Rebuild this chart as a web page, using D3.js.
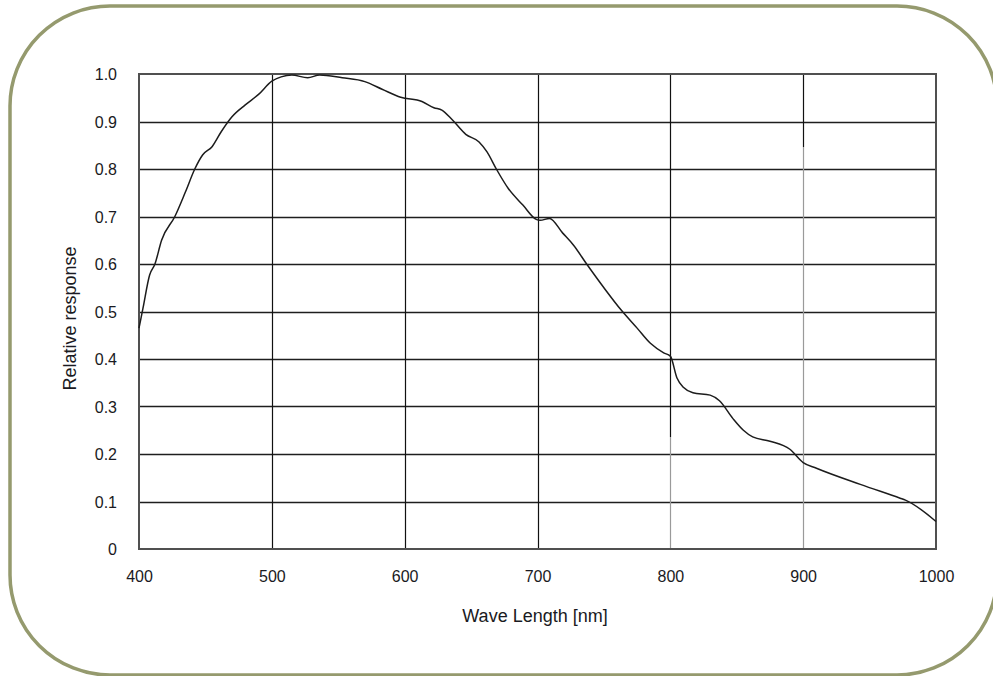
<!DOCTYPE html>
<html>
<head>
<meta charset="utf-8">
<script src="https://cdn.jsdelivr.net/npm/d3@7"></script>
<style>
  html, body { margin: 0; padding: 0; background: #fff; }
  svg { display: block; }
  text { font-family: "Liberation Sans", Arial, sans-serif; fill: #1a1a22; }
</style>
</head>
<body>
<svg id="chart" width="993" height="676"></svg>
<script>
// ---- data ----
const wavelength = [400, 403, 408, 412, 417, 427, 435, 442, 448, 455, 462, 470, 480, 490, 500, 507, 515, 527, 536, 553, 570, 583, 597, 613, 622, 628, 636, 646, 656, 662, 669, 678, 689, 699, 702, 709, 719, 727, 737, 750, 763, 775, 785, 795, 800, 805, 810, 817, 830, 837, 847, 855, 862, 875, 890, 900, 910, 943, 973, 977, 1000];
const response   = [0.465, 0.507, 0.577, 0.600, 0.650, 0.700, 0.752, 0.800, 0.830, 0.847, 0.879, 0.910, 0.935, 0.957, 0.985, 0.994, 0.998, 0.992, 0.998, 0.992, 0.984, 0.968, 0.951, 0.942, 0.929, 0.924, 0.903, 0.873, 0.857, 0.836, 0.800, 0.759, 0.724, 0.694, 0.692, 0.696, 0.665, 0.640, 0.600, 0.550, 0.503, 0.465, 0.433, 0.413, 0.406, 0.360, 0.340, 0.329, 0.324, 0.312, 0.275, 0.250, 0.236, 0.227, 0.210, 0.182, 0.170, 0.136, 0.107, 0.103, 0.058];
const xTicks = [400, 500, 600, 700, 800, 900, 1000];
const yTicks = [0, 0.1, 0.2, 0.3, 0.4, 0.5, 0.6, 0.7, 0.8, 0.9, 1.0];
const xTitle = "Wave Length [nm]";
const yTitle = "Relative response";

// ---- layout ----
const svg = d3.select("#chart");
const L = 139, R = 936, T = 74, B = 549;
const x = d3.scaleLinear().domain([400, 1000]).range([L, R]);
const y = d3.scaleLinear().domain([0, 1]).range([B, T]);

// rounded frame
svg.append("rect")
  .attr("x", 10).attr("y", 6).attr("width", 987).attr("height", 669)
  .attr("rx", 100).attr("ry", 100)
  .attr("fill", "none").attr("stroke", "#959a6e").attr("stroke-width", 3.5);

// horizontal grid
svg.append("g").selectAll("line").data(yTicks.filter(d => d > 0 && d < 1)).join("line")
  .attr("x1", L).attr("x2", R)
  .attr("y1", d => Math.round(y(d)) + 0.5).attr("y2", d => Math.round(y(d)) + 0.5)
  .attr("stroke", "#1e1e1e").attr("stroke-width", 1.4);

// vertical grid (lower parts of 800 & 900 appear faded in the original)
const fadeFrom = {800: 437, 900: 147};
const vg = svg.append("g");
xTicks.filter(d => d > 400 && d < 1000).forEach(d => {
  const xp = Math.round(x(d)) + 0.5;
  const f = fadeFrom[d];
  vg.append("line").attr("x1", xp).attr("x2", xp).attr("y1", T).attr("y2", f || B)
    .attr("stroke", "#111").attr("stroke-width", 1.2);
  if (f) vg.append("line").attr("x1", xp).attr("x2", xp).attr("y1", f).attr("y2", B)
    .attr("stroke", "#9a9a9a").attr("stroke-width", 1.2);
});

// frame
svg.append("rect").attr("x", L).attr("y", T).attr("width", R - L).attr("height", B - T)
  .attr("fill", "none").attr("stroke", "#505050").attr("stroke-width", 2);

// axes labels via d3 axes
const yAxis = d3.axisLeft(y).tickValues(yTicks).tickSize(0).tickPadding(0)
  .tickFormat(d => d === 0 ? "0" : d3.format(".1f")(d));
const gy = svg.append("g").attr("transform", `translate(${L - 22},0)`).call(yAxis);
gy.select(".domain").remove();
gy.selectAll("text").style("font-size", "16px").attr("fill", "#1a1a22").attr("dy", "0.35em");

const xAxis = d3.axisBottom(x).tickValues(xTicks).tickSize(0).tickPadding(0)
  .tickFormat(d3.format("d"));
const gx = svg.append("g").attr("transform", `translate(0,${B + 22})`).call(xAxis);
gx.select(".domain").remove();
gx.selectAll("text").style("font-size", "16px").attr("fill", "#1a1a22").attr("dy", "0.71em");

// titles
svg.append("text").attr("x", 535).attr("y", 622).attr("text-anchor", "middle")
  .style("font-size", "18px").text(xTitle);
svg.append("text").attr("transform", "translate(76,318.5) rotate(-90)").attr("text-anchor", "middle")
  .style("font-size", "18px").text(yTitle);

// curve
const line = d3.line().x((d, i) => x(wavelength[i])).y(d => y(d)).curve(d3.curveMonotoneX);
svg.append("path").datum(response).attr("d", line)
  .attr("fill", "none").attr("stroke", "#1c1c1c").attr("stroke-width", 1.5)
  .attr("stroke-linejoin", "round");
</script>
</body>
</html>
